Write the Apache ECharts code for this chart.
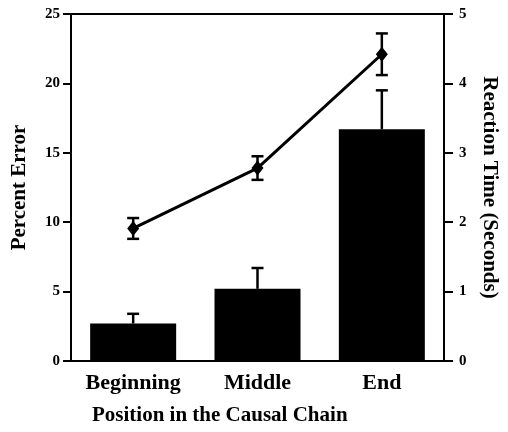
<!DOCTYPE html>
<html>
<head>
<meta charset="utf-8">
<script src="https://cdn.jsdelivr.net/npm/echarts@6/dist/echarts.min.js"></script>
<style>
  html, body { margin: 0; padding: 0; background: #fff; }
  #chart { width: 508px; height: 432px; }
</style>
</head>
<body>
<div id="chart"></div>
<script>
const categories = ["Beginning", "Middle", "End"];
const percentError = [2.7, 5.2, 16.7];
const percentErrorSE = [0.7, 1.5, 2.8];
const reactionTime = [1.91, 2.78, 4.42];
const reactionTimeSE = [0.15, 0.17, 0.3];
const leftTicks = [0, 5, 10, 15, 20, 25];
const rightTicks = [0, 1, 2, 3, 4, 5];

const serif = "Liberation Serif";

// error bar drawn in data space, "both" = cap below too
function errorBars(both) {
  return function (params, api) {
    const x = api.value(0);
    const v = api.value(1);
    const e = api.value(2);
    const top = api.coord([x, v + e]);
    const mid = api.coord([x, v]);
    const bot = api.coord([x, v - e]);
    const hw = 6;
    const style = { stroke: "#000", lineWidth: 2.5 };
    const children = [
      { type: "line", shape: { x1: top[0], y1: top[1], x2: both ? bot[0] : mid[0], y2: both ? bot[1] : mid[1] }, style },
      { type: "line", shape: { x1: top[0] - hw, y1: top[1], x2: top[0] + hw, y2: top[1] }, style },
    ];
    if (both) {
      children.push({ type: "line", shape: { x1: bot[0] - hw, y1: bot[1], x2: bot[0] + hw, y2: bot[1] }, style });
    }
    return { type: "group", children };
  };
}

const chart = echarts.init(document.getElementById("chart"));
chart.setOption({
  animation: false,
  title: {
    text: "Position in the Causal Chain",
    left: 87,
    top: 400,
    textStyle: { fontFamily: serif, fontWeight: "bold", fontSize: 21, color: "#000" },
  },
  grid: {
    left: 71, right: 61, top: 14, bottom: 71,
    show: true, borderColor: "#000", borderWidth: 2, backgroundColor: "transparent",
  },
  xAxis: {
    type: "category",
    data: categories,
    axisLine: { lineStyle: { color: "#000", width: 2 } },
    axisTick: { alignWithLabel: true, length: 9, lineStyle: { color: "#000", width: 2 } },
    axisLabel: { margin: 11, fontFamily: serif, fontWeight: "bold", fontSize: 22, color: "#000" },
  },
  yAxis: [
    {
      type: "value",
      min: leftTicks[0], max: leftTicks[leftTicks.length - 1], interval: 5,
      name: "Percent Error",
      nameLocation: "middle",
      nameGap: 41,
      nameRotate: 90,
      nameTextStyle: { fontFamily: serif, fontWeight: "bold", fontSize: 21, color: "#000" },
      axisLine: { show: true, lineStyle: { color: "#000", width: 2 } },
      axisTick: { show: true, length: 8, lineStyle: { color: "#000", width: 2 } },
      axisLabel: { margin: 11, fontFamily: serif, fontWeight: "bold", fontSize: 15, color: "#000" },
      splitLine: { show: false },
    },
    {
      type: "value",
      min: rightTicks[0], max: rightTicks[rightTicks.length - 1], interval: 1,
      name: "Reaction Time (Seconds)",
      nameLocation: "middle",
      nameGap: 35,
      nameRotate: -90,
      nameTextStyle: { fontFamily: serif, fontWeight: "bold", fontSize: 21, color: "#000" },
      axisLine: { show: true, lineStyle: { color: "#000", width: 2 } },
      axisTick: { show: true, length: 9, lineStyle: { color: "#000", width: 2 } },
      axisLabel: { margin: 15, fontFamily: serif, fontWeight: "bold", fontSize: 15, color: "#000" },
      splitLine: { show: false },
    },
  ],
  series: [
    {
      type: "bar",
      yAxisIndex: 0,
      data: percentError,
      barWidth: 86,
      itemStyle: { color: "#000" },
    },
    {
      type: "custom",
      yAxisIndex: 0,
      renderItem: errorBars(false),
      data: percentError.map((v, i) => [i, v, percentErrorSE[i]]),
      z: 3,
    },
    {
      type: "custom",
      yAxisIndex: 1,
      renderItem: errorBars(true),
      data: reactionTime.map((v, i) => [i, v, reactionTimeSE[i]]),
      z: 3,
    },
    {
      type: "line",
      yAxisIndex: 1,
      data: reactionTime,
      symbol: "diamond",
      symbolSize: [12, 15],
      lineStyle: { color: "#000", width: 3 },
      itemStyle: { color: "#000" },
      z: 4,
    },
  ],
});
</script>
</body>
</html>
